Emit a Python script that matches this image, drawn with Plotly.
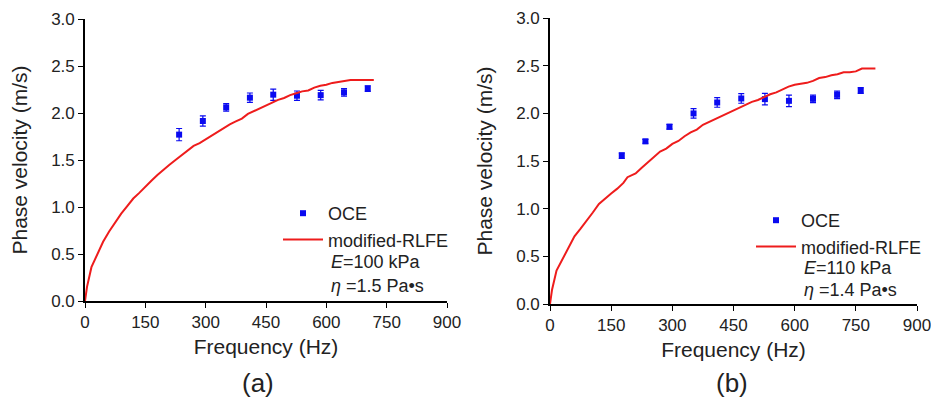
import plotly.graph_objects as go

# ---------- data: panel (a) ----------
oce_a_freq = [234, 293, 351, 410, 468, 527, 586, 644, 703]
oce_a_vel = [1.77, 1.915, 2.06, 2.163, 2.195, 2.184, 2.19, 2.22, 2.26]
oce_a_err = [0.065, 0.055, 0.04, 0.05, 0.06, 0.05, 0.05, 0.04, 0.03]

fit_a_freq = [0, 5, 16, 30, 45, 60, 75, 90, 105, 120, 135, 150, 165, 180, 195, 210,
              225, 240, 255, 270, 285, 300, 315, 330, 345, 360, 375, 390, 405, 420,
              435, 450, 465, 480, 495, 510, 525, 540, 555, 570, 585, 600, 615, 630,
              645, 660, 690, 718]
fit_a_vel = [0, 0.15, 0.36, 0.50, 0.63, 0.74, 0.84, 0.93, 1.01, 1.09, 1.15, 1.22, 1.28,
             1.34, 1.40, 1.45, 1.50, 1.55, 1.60, 1.65, 1.68, 1.72, 1.76, 1.80, 1.84,
             1.88, 1.91, 1.94, 1.99, 2.02, 2.05, 2.08, 2.11, 2.14, 2.16, 2.19, 2.21,
             2.23, 2.24, 2.27, 2.29, 2.30, 2.32, 2.33, 2.34, 2.35, 2.35, 2.35]

# ---------- data: panel (b) ----------
oce_b_freq = [176, 234, 293, 352, 410, 469, 527, 586, 645, 704, 762]
oce_b_vel = [1.556, 1.706, 1.859, 1.999, 2.114, 2.156, 2.149, 2.131, 2.152, 2.194, 2.239]
oce_b_err = [0.03, 0.02, 0.025, 0.05, 0.05, 0.05, 0.06, 0.06, 0.04, 0.04, 0.03]

fit_b_freq = [0, 5, 16, 30, 45, 60, 75, 90, 105, 120, 135, 150, 165, 180, 190, 210,
              225, 240, 255, 270, 285, 300, 315, 330, 345, 360, 375, 390, 405, 420,
              435, 450, 465, 480, 495, 510, 525, 540, 555, 570, 585, 600, 615, 630,
              645, 660, 675, 690, 705, 720, 735, 750, 765, 798]
fit_b_vel = [0, 0.15, 0.35, 0.47, 0.59, 0.71, 0.79, 0.87, 0.96, 1.05, 1.11, 1.16, 1.21,
             1.27, 1.33, 1.37, 1.43, 1.49, 1.55, 1.60, 1.63, 1.68, 1.71, 1.76, 1.80,
             1.83, 1.88, 1.91, 1.94, 1.97, 2.00, 2.03, 2.06, 2.09, 2.12, 2.14, 2.17,
             2.20, 2.22, 2.25, 2.28, 2.30, 2.31, 2.32, 2.34, 2.37, 2.38, 2.40, 2.41,
             2.43, 2.43, 2.44, 2.47, 2.47]

x_ticks = [0, 150, 300, 450, 600, 750, 900]
y_ticks = [0.0, 0.5, 1.0, 1.5, 2.0, 2.5, 3.0]

params_a = ["<i>E</i>=100 kPa", "<i>η</i> =1.5 Pa•s"]
params_b = ["<i>E</i>=110 kPa", "<i>η</i> =1.4 Pa•s"]

BLUE = "#0a0af0"
RED = "#ee1c1c"
FONT = "Liberation Sans, Arial, sans-serif"
W, H = 931, 401

fig = go.Figure()

def add_panel(freq, vel, err, ffreq, fvel, xa, ya, legend):
    fig.add_trace(go.Scatter(
        x=freq, y=vel, mode="markers", name="OCE",
        marker=dict(symbol="square", size=6, color=BLUE),
        error_y=dict(type="data", array=err, visible=True, color=BLUE,
                     thickness=1.2, width=3),
        xaxis=xa, yaxis=ya, legend=legend))
    fig.add_trace(go.Scatter(
        x=ffreq, y=fvel, mode="lines", name="modified-RLFE",
        line=dict(color=RED, width=2),
        xaxis=xa, yaxis=ya, legend=legend))

add_panel(oce_a_freq, oce_a_vel, oce_a_err, fit_a_freq, fit_a_vel, "x", "y", "legend")
add_panel(oce_b_freq, oce_b_vel, oce_b_err, fit_b_freq, fit_b_vel, "x2", "y2", "legend2")

def px_x(p):
    return p / W

def px_y(p):
    return 1 - p / H

axis_common = dict(showline=True, linecolor="black", linewidth=1.6, ticks="outside",
                   ticklen=5, tickwidth=1.2, tickcolor="black", showgrid=False,
                   zeroline=False, mirror=False, automargin=False,
                   ticklabeloverflow="allow",
                   tickfont=dict(family=FONT, size=17, color="#222"))

xa_common = dict(axis_common, range=[0, 900], tickvals=x_ticks,
                 ticktext=[str(v) for v in x_ticks],
                 title=dict(text="Frequency (Hz)", font=dict(family=FONT, size=21, color="#222"),
                            standoff=8))
ya_common = dict(axis_common, range=[0, 3], tickvals=y_ticks,
                 ticktext=[f"{v:.1f}" for v in y_ticks],
                 title=dict(text="Phase velocity (m/s)", font=dict(family=FONT, size=21, color="#222"),
                            standoff=18))

legend_common = dict(font=dict(family=FONT, size=18, color="#222"), bgcolor="rgba(0,0,0,0)",
                     borderwidth=0, xanchor="left", yanchor="top", itemwidth=40,
                     tracegroupgap=0)

fig.update_layout(
    width=W, height=H,
    margin=dict(l=0, r=0, t=0, b=0, autoexpand=False),
    paper_bgcolor="white", plot_bgcolor="white",
    font=dict(family=FONT, color="#222"),
    xaxis=dict(xa_common, domain=[px_x(85), px_x(447)], anchor="y"),
    yaxis=dict(ya_common, domain=[px_y(301), px_y(19)], anchor="x"),
    xaxis2=dict(xa_common, domain=[px_x(550), px_x(917)], anchor="y2"),
    yaxis2=dict(ya_common, domain=[px_y(304), px_y(18)], anchor="x2"),
    legend=dict(legend_common, x=px_x(278), y=px_y(195)),
    legend2=dict(legend_common, x=px_x(751), y=px_y(202)),
)

annotations = []
for i, t in enumerate(params_a):
    annotations.append(dict(text=t, x=px_x(329), y=px_y([262, 286][i]), xref="paper", yref="paper",
                            xanchor="left", yanchor="middle", showarrow=False,
                            font=dict(family=FONT, size=18, color="#222")))
for i, t in enumerate(params_b):
    annotations.append(dict(text=t, x=px_x(802), y=px_y([268, 290][i]), xref="paper", yref="paper",
                            xanchor="left", yanchor="middle", showarrow=False,
                            font=dict(family=FONT, size=18, color="#222")))
annotations.append(dict(text="(a)", x=px_x(258), y=px_y(383), xref="paper", yref="paper",
                        xanchor="center", yanchor="middle", showarrow=False,
                        font=dict(family=FONT, size=26, color="#222")))
annotations.append(dict(text="(b)", x=px_x(732), y=px_y(383), xref="paper", yref="paper",
                        xanchor="center", yanchor="middle", showarrow=False,
                        font=dict(family=FONT, size=26, color="#222")))
fig.update_layout(annotations=annotations)

fig.write_html("out.html", config={"displayModeBar": False},
               post_script="document.body.style.margin='0';document.body.style.overflow='hidden';")
